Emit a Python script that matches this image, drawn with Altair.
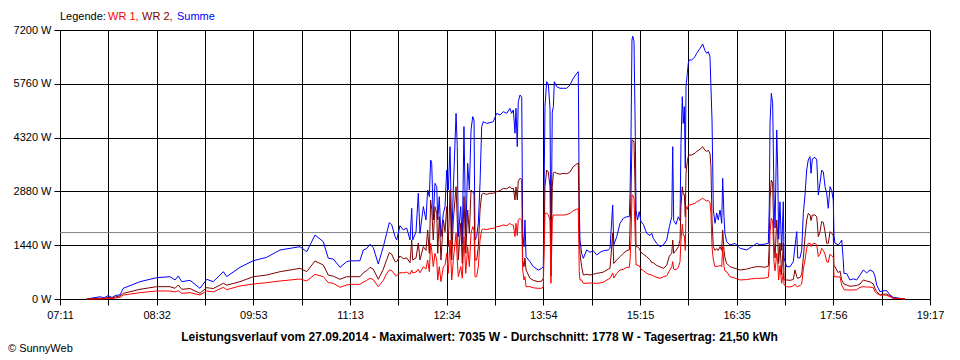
import altair as alt
import pandas as pd

# Zeit in Minuten nach Mitternacht
zeit = [
    453.3, 464.4, 467.7, 471.1, 474.4, 477.7, 481.1, 483.8, 497.8, 511.7,
    522.8, 527.0, 529.7, 532.6, 539.5, 547.8, 553.4, 558.9, 567.3, 570.1,
    581.2, 592.3, 603.5, 614.6, 631.3, 636.9, 643.8, 650.7, 654.9, 659.1,
    664.7, 670.2, 673.0, 681.3, 684.1, 686.9, 689.7, 692.4, 696.6, 700.8,
    703.6, 705.8, 707.8, 710.6, 712.0, 714.7, 717.5, 720.3, 723.1, 724.5,
    725.3, 728.1, 730.0, 731.4, 734.2, 736.4, 737.8, 739.2, 740.3, 741.2,
    742.5, 743.9, 745.4, 746.2, 747.5, 748.9, 750.9, 752.3, 753.7, 755.0,
    756.5, 757.9, 759.2, 761.5, 762.5, 763.4, 765.4, 766.7, 768.1, 769.6,
    771.2, 772.6, 774.0, 775.4, 776.5, 777.3, 778.7, 780.1, 781.5, 782.9,
    784.2, 787.1, 789.8, 792.6, 795.4, 798.2, 800.9, 803.8, 806.5, 807.9,
    809.3, 810.7, 811.5, 812.6, 813.4, 814.9, 816.3, 817.1, 818.2, 819.0,
    819.9, 823.2, 826.0, 830.1, 833.0, 834.3, 835.7, 837.1, 838.5, 839.9,
    840.7, 841.8, 842.7, 843.5, 845.5, 848.2, 851.0, 853.8, 856.6, 859.3,
    862.2, 863.5, 864.3, 864.9, 866.3, 867.7, 870.5, 873.3, 876.0, 878.9,
    881.6, 884.4, 888.5, 890.0, 892.2, 893.1, 895.6, 898.3, 901.1, 903.9,
    906.1, 906.7, 907.5, 908.3, 908.9, 910.0, 911.1, 911.7, 912.9, 914.4,
    915.8, 917.8, 920.6, 923.3, 924.8, 926.1, 928.9, 931.7, 934.5, 937.3,
    939.5, 941.5, 942.3, 943.1, 945.0, 947.0, 948.4, 949.2, 950.3, 951.1,
    952.0, 952.8, 953.4, 954.5, 955.3, 955.9, 958.1, 960.9, 962.3, 965.1,
    967.3, 969.2, 970.7, 972.0, 973.4, 974.2, 975.1, 976.2, 977.6, 979.0,
    980.3, 981.8, 983.2, 984.0, 985.1, 985.9, 987.3, 990.1, 994.3, 998.4,
    1004.0, 1008.2, 1012.4, 1015.1, 1019.3, 1022.1, 1022.9, 1023.5, 1024.6, 1025.7,
    1026.8, 1027.7, 1029.1, 1029.9, 1030.7, 1031.8, 1033.2, 1034.6, 1035.2, 1037.4,
    1040.2, 1042.9, 1044.3, 1045.8, 1046.6, 1048.5, 1049.9, 1051.3, 1052.7, 1054.1,
    1055.4, 1056.9, 1057.7, 1058.8, 1061.0, 1062.5, 1063.8, 1065.2, 1066.6, 1068.0,
    1069.4, 1070.8, 1072.1, 1073.6, 1075.0, 1076.3, 1076.9, 1077.7, 1080.5, 1081.9,
    1083.3, 1084.4, 1085.2, 1087.5, 1090.2, 1093.0, 1095.8, 1098.6, 1101.3, 1104.2,
    1106.9, 1109.7, 1111.1, 1112.5, 1115.3, 1118.0, 1120.9, 1123.6, 1126.4, 1132.0,
    1136.1,
]

summe = [
    0, 60, 30, 90, 40, 100, 107, 286, 464, 571,
    597, 509, 616, 464, 500, 286, 527, 464, 731, 600,
    848, 1025, 1116, 1312, 1400, 1266, 1713, 1534, 1089, 1070,
    848, 998, 1020, 1025, 1312, 1350, 1463, 1380, 937, 1400,
    1758, 2043, 1990, 1668, 1579, 1963, 1850, 1900, 1579, 2427,
    1579, 1800, 2829, 1758, 2472, 2115, 2918, 2739, 3721, 3632,
    2115, 3096, 3007, 2115, 2739, 1669, 2293, 2472, 3453, 2918,
    4078, 1579, 2918, 4970, 4078, 1669, 2472, 1490, 4613, 1669,
    3632, 2918, 4524, 4881, 4790, 1579, 1669, 2026, 3096, 4613,
    4747, 4700, 4720, 4747, 4970, 4925, 5015, 4970, 5104, 4970,
    5060, 4435, 5104, 4078, 5282, 5461, 5400, 1758, 1401, 2115,
    1133, 999, 866, 776, 820, 866, 5148, 5817, 5750, 5100,
    1044, 5000, 5148, 5817, 5683, 5640, 5640, 5640, 5728, 5907,
    6041, 6085, 2562, 1579, 1223, 1089, 1312, 1250, 1290, 1178,
    1250, 1290, 1312, 1357, 2516, 1450, 1668, 2026, 2160, 2203,
    2203, 2829, 4344, 6933, 7035, 6900, 4344, 2382, 2115, 2337,
    2069, 2000, 1758, 1700, 1760, 1624, 1490, 1400, 1450, 1579,
    1935, 2203, 4077, 2100, 2000, 2200, 2100, 4167, 5415, 4700,
    5148, 3500, 5683, 6041, 6308, 6397, 6397, 6486, 6576, 6710,
    6826, 6650, 6576, 6620, 6486, 5683, 4791, 2382, 2026, 2300,
    2115, 2382, 2026, 3231, 2200, 1758, 1534, 1446, 1490, 1357,
    1312, 1400, 1490, 1450, 1470, 1490, 2500, 4703, 5506, 5238,
    2800, 1900, 4524, 3500, 1600, 2600, 1300, 2605, 1100, 865,
    865, 1000, 1400, 1803, 1100, 1100, 1300, 2293, 2784, 3453,
    3721, 3810, 3364, 3750, 3792, 3721, 2784, 3100, 3453, 3400,
    3006, 2829, 2427, 3006, 2900, 2650, 1700, 1490, 1450, 1500,
    1579, 1133, 687, 680, 509, 540, 509, 642, 776, 700,
    776, 731, 600, 375, 196, 220, 223, 107, 45, 18,
    0,
]

wr2 = [
    0, 20, 15, 40, 30, 60, 80, 152, 259, 330,
    330, 286, 375, 259, 280, 152, 303, 280, 420, 370,
    464, 597, 642, 731, 821, 731, 1017, 910, 640, 610,
    527, 597, 597, 597, 700, 758, 848, 800, 527, 800,
    1050, 1240, 1200, 999, 999, 1151, 1080, 1100, 972, 1579,
    1044, 1100, 1500, 1044, 1401, 1300, 1847, 1222, 2650, 2400,
    1579, 2472, 2293, 1222, 2204, 1044, 2115, 1800, 2472, 1401,
    2918, 1044, 2115, 3007, 2115, 1044, 2026, 955, 2739, 1222,
    2382, 1758, 2918, 2873, 2800, 1044, 1044, 1401, 2382, 2800,
    2830, 2800, 2830, 2830, 2873, 2900, 2962, 2950, 3007, 2950,
    2962, 2650, 3000, 2650, 3150, 3231, 3200, 1044, 865, 1100,
    776, 553, 500, 464, 480, 553, 3006, 3453, 3400, 3006,
    620, 3000, 3364, 3400, 3364, 3340, 3364, 3350, 3400, 3542,
    3614, 3640, 1935, 1223, 865, 642, 660, 642, 660, 687,
    700, 720, 800, 821, 1758, 950, 1044, 1133, 1223, 1294,
    1312, 1935, 2800, 4256, 4256, 4200, 2700, 1400, 1400, 1350,
    1250, 1200, 1133, 1050, 972, 972, 900, 860, 821, 900,
    1150, 1223, 1579, 1223, 1300, 1400, 1580, 2471, 3006, 2800,
    2800, 2200, 3364, 3700, 3810, 3854, 3854, 3900, 3950, 4007,
    4077, 3980, 3950, 3980, 3900, 3542, 2115, 1400, 1300, 1350,
    1300, 1400, 1300, 1847, 1300, 1100, 955, 865, 820, 776,
    800, 840, 865, 865, 850, 880, 1500, 2700, 3185, 3100,
    1500, 1100, 2115, 1700, 950, 1500, 650, 1500, 509, 509,
    500, 520, 776, 600, 550, 580, 650, 1100, 1668, 2115,
    2293, 2250, 2100, 2248, 2248, 2200, 1668, 1800, 2069, 2050,
    1800, 1490, 1490, 1803, 1750, 1700, 865, 865, 700, 750,
    509, 450, 400, 375, 340, 350, 360, 401, 509, 480,
    460, 400, 286, 200, 107, 130, 130, 80, 18, 10,
    0,
]

wr1 = [
    0, 0, 5, 20, 10, 30, 45, 107, 169, 214,
    214, 190, 220, 152, 169, 107, 214, 190, 312, 250,
    348, 401, 437, 482, 535, 482, 660, 597, 440, 420,
    312, 375, 393, 393, 450, 500, 553, 520, 330, 500,
    680, 776, 760, 642, 620, 705, 700, 720, 660, 776,
    700, 720, 800, 700, 866, 800, 1044, 732, 1490, 1300,
    866, 1222, 1044, 509, 866, 464, 866, 900, 1222, 687,
    1579, 509, 1044, 1758, 1044, 598, 866, 555, 1669, 687,
    1401, 866, 1758, 1936, 1847, 598, 598, 866, 1579, 1847,
    1870, 1860, 1880, 1892, 1936, 1950, 1981, 1960, 2026, 1980,
    1981, 1669, 2026, 1700, 2115, 2159, 2100, 776, 509, 600,
    330, 330, 300, 286, 286, 330, 2293, 2300, 2250, 2115,
    420, 2115, 2248, 2248, 2248, 2248, 2248, 2260, 2293, 2364,
    2401, 2427, 731, 509, 509, 420, 420, 430, 420, 420,
    430, 450, 530, 553, 700, 560, 687, 776, 794, 848,
    848, 1044, 1600, 2784, 2784, 2700, 1600, 910, 910, 890,
    800, 760, 687, 650, 640, 620, 580, 553, 597, 620,
    750, 865, 1000, 800, 780, 850, 1000, 1579, 2000, 1700,
    1700, 1300, 2471, 2400, 2516, 2516, 2530, 2560, 2600, 2650,
    2695, 2650, 2620, 2640, 2578, 2300, 1400, 1044, 865, 880,
    870, 900, 865, 1400, 865, 750, 731, 597, 560, 509,
    520, 540, 553, 553, 560, 580, 900, 1800, 2160, 2100,
    1000, 750, 1223, 1000, 509, 900, 420, 700, 380, 330,
    320, 350, 400, 330, 330, 360, 400, 800, 1044, 1357,
    1490, 1490, 1400, 1470, 1490, 1450, 1133, 1200, 1357, 1300,
    1200, 999, 980, 1200, 1150, 1133, 597, 597, 590, 597,
    375, 300, 250, 241, 241, 241, 250, 312, 330, 320,
    320, 300, 196, 150, 107, 107, 100, 60, 18, 10,
    0,
]

zeit_labels = ["07:11", "", "08:32", "", "09:53", "", "11:13", "", "12:34", "",
               "13:54", "", "15:15", "", "16:35", "", "17:56", "", "19:17"]
leistung_ticks = [0, 1440, 2880, 4320, 5760, 7200]
durchschnitt = 1778
titel = ("Leistungsverlauf vom 27.09.2014 - Maximalwert: 7035 W - "
         "Durchschnitt: 1778 W - Tagesertrag: 21,50 kWh")

start, ende = 431, 1157
schritt = (ende - start) / 18
zeit_ticks = [start + i * schritt for i in range(19)]

df = pd.DataFrame({"zeit": zeit, "summe": summe, "wr1": wr1, "wr2": wr2})

FONT = "Liberation Sans"
label_list = "[" + ",".join("'" + s + "'" for s in zeit_labels) + "]"
x_axis = alt.Axis(values=zeit_ticks, title=None, grid=True, gridColor="black",
                  gridOpacity=1, gridWidth=1, domainColor="black", tickColor="black",
                  tickSize=6, labelPadding=4, labelFlush=False, labelFont=FONT,
                  labelFontSize=11, labelColor="black", labelOverlap=False,
                  labelExpr=label_list + f"[round((datum.value-{start})/{schritt})]")
y_axis = alt.Axis(values=leistung_ticks, title=None, grid=True, gridColor="black",
                  gridOpacity=1, gridWidth=1, domainColor="black", tickColor="black",
                  tickSize=6, labelPadding=3, labelFont=FONT, labelFontSize=11,
                  labelColor="black", labelExpr="datum.value + ' W'")
x_scale = alt.Scale(domain=[start, ende], nice=False, zero=False)
y_scale = alt.Scale(domain=[0, 7200], nice=False)


def linie(feld, farbe):
    return alt.Chart(df).mark_line(color=farbe, strokeWidth=1, interpolate="linear").encode(
        x=alt.X("zeit:Q", scale=x_scale, axis=x_axis),
        y=alt.Y(f"{feld}:Q", scale=y_scale, axis=y_axis),
    )


avg = alt.Chart(pd.DataFrame({"w": [durchschnitt]})).mark_rule(
    color="#808080", strokeWidth=1).encode(
    y=alt.Y("w:Q", scale=y_scale, axis=y_axis))

one = pd.DataFrame({"a": [0]})


def text(t, x, y, farbe="black", bold=False, align="left", size=11):
    return alt.Chart(one).mark_text(
        text=t, font=FONT, fontSize=size, fontWeight="bold" if bold else "normal",
        color=farbe, align=align, baseline="middle").encode(
        x=alt.value(x), y=alt.value(y))


chart = alt.layer(
    avg,
    linie("summe", "#0000FF"),
    linie("wr2", "#800000"),
    linie("wr1", "#FF0000"),
    text("Legende:", 0, -13.5),
    text("WR 1,", 48, -13.5, "#FF0000"),
    text("WR 2,", 82, -13.5, "#800000"),
    text("Summe", 117, -13.5, "#0000FF"),
    text(titel, 419.5, 306.5, bold=True, align="center", size=12),
    text("\u00a9 SunnyWeb", -52, 319),
).properties(
    width=870, height=269,
    autosize=alt.AutoSizeParams(type="none"),
    padding={"left": 52, "top": 22, "right": 22, "bottom": 56},
    background="white",
).configure_view(stroke=None)

chart.save("out.html", embed_options={"renderer": "svg", "actions": False})
